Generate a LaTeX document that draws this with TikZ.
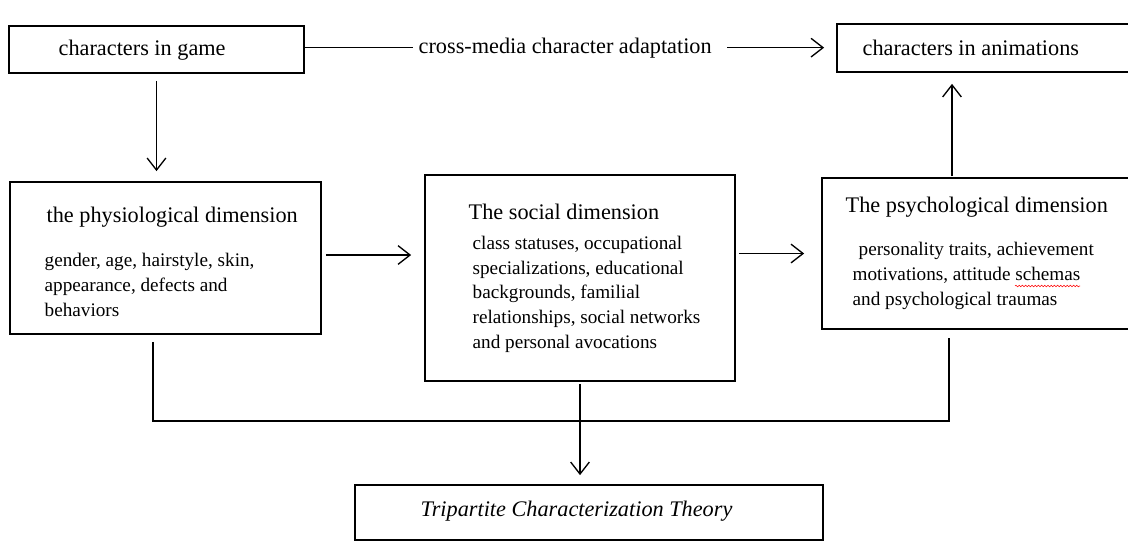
\documentclass[tikz,border=0pt]{standalone}
\usepackage{fontspec}
\setmainfont{Liberation Serif}
\usetikzlibrary{arrows.meta,positioning,fit,decorations.pathmorphing}

\begin{document}
\begin{tikzpicture}[x=0.75pt,y=-0.75pt,->,>={Straight Barb[length=9pt,width=14pt]},line width=1pt,
  box/.style={draw,rectangle,line width=1.3pt,inner sep=0pt},
  big/.style={font=\fontsize{16.7}{20}\selectfont,inner sep=0pt,anchor=base west},
  small/.style={font=\fontsize{14.4}{18.5}\selectfont,inner sep=0pt,anchor=base west,align=left}]
    \useasboundingbox (0,0) rectangle (1128,547);
    \node[box,fit={(9,26)(304,73)}](game){};
    \node[box,fit={(837,24)(1134,72)}](anim){};
    \node[box,fit={(10,182)(321,334)}](phys){};
    \node[box,fit={(425,175)(735,381)}](soc){};
    \node[box,fit={(822,178)(1134,329)}](psych){};
    \node[box,fit={(355,485)(823,540)}](theory){};
    \node[big](gameT) at (58,55){characters in game};
    \node[big](adapt) at (418,53){cross-media character adaptation};
    \node[big](animT) at (862,55){characters in animations};
    \node[big](physT) at (46,222){the physiological dimension};
    % multi-line nodes sit on their last line
    \node[small](physB) at (44,316){gender, age, hairstyle, skin,\\appearance, defects and\\behaviors};
    \node[big](socT) at (468,219){The social dimension};
    \node[small](socB) at (472,348){class statuses, occupational\\specializations, educational\\backgrounds, familial\\relationships, social networks\\and personal avocations};
    \node[big](psychT) at (845,212){The psychological dimension};
    \node[small](psychB) at (852,305){\hspace{4.5pt}personality traits, achievement\\motivations, attitude schemas\\and psychological traumas};
    \node[big,font=\fontsize{16.7}{20}\selectfont\itshape](theoryT) at (420,516){Tripartite Characterization Theory};
    \coordinate (join) at (576,421);
    \path (game.south) edge[shorten <=5.25pt,shorten >=7.5pt] (game.south |- phys.north)
          ([yshift=2.25pt]phys.east) edge[shorten <=3pt,shorten >=9.75pt] ([yshift=2.25pt]phys.east -| soc.west)
          (psych.west -| soc.east) edge[shorten <=2.25pt,shorten >=12.75pt] (psych.west)
          ([xshift=-19.5pt]psych.north) edge[shorten <=0.75pt,shorten >=8.25pt] ([xshift=-19.5pt]psych.north |- anim.south)
          (soc.south) edge[shorten <=1.5pt,shorten >=6.75pt] (soc.south |- theory.north)
          (adapt.east) edge[shorten <=11pt,shorten >=9pt] (adapt.east -| anim.west)
    ;
    \draw[-,shorten >=3.75pt] (game.east |- adapt.west) -- (adapt.west);
    \draw[-] ([xshift=-9.4pt,yshift=-5.25pt]phys.south) |- (join) -| ([xshift=-21.75pt,yshift=-6pt]psych.south);
    % spell-check squiggle under "schemas"
    \draw[-,red,line width=0.4pt,decorate,decoration={snake,amplitude=0.6pt,segment length=2.4pt}] (1015,286) -- (1080,286);

\end{tikzpicture}
\end{document}
